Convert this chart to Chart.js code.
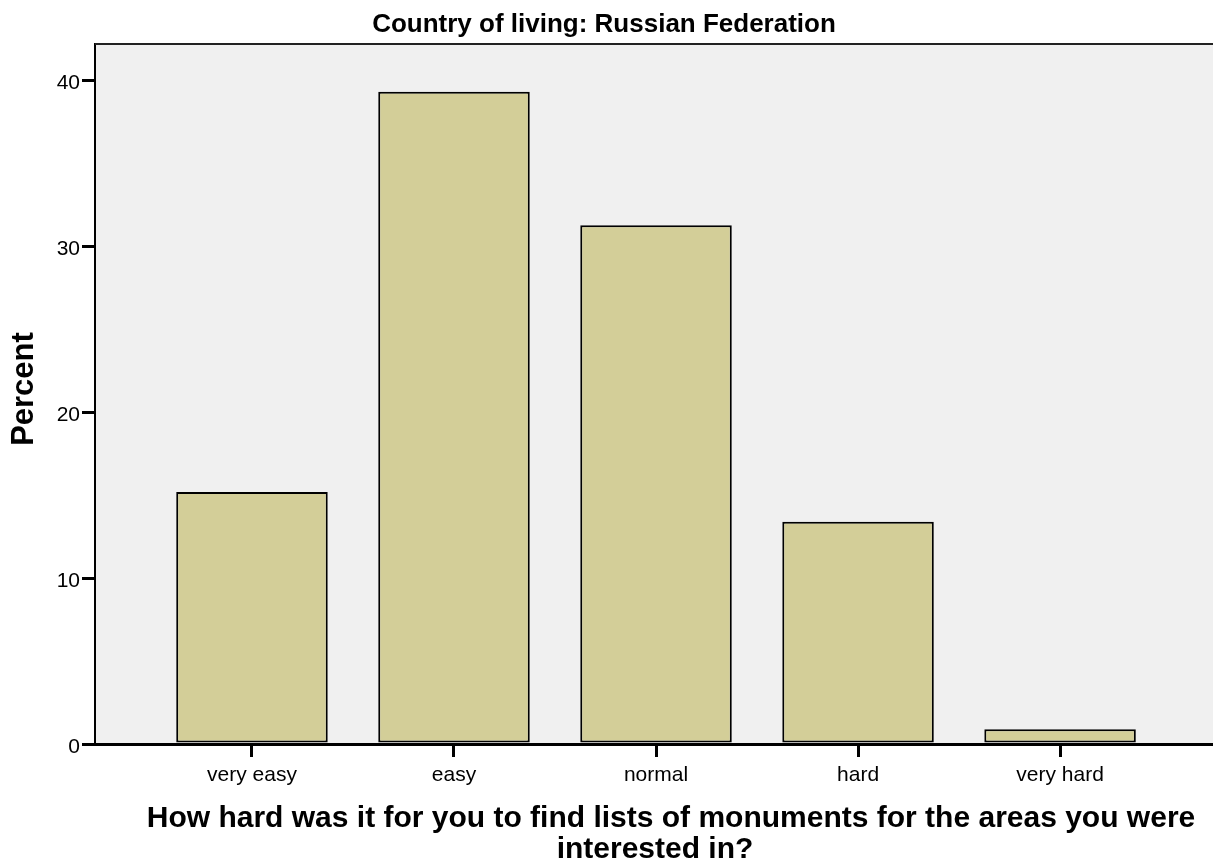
<!DOCTYPE html>
<html>
<head>
<meta charset="utf-8">
<script src="https://cdn.jsdelivr.net/npm/chart.js@4/dist/chart.umd.min.js"></script>
<style>
  html, body { margin: 0; padding: 0; background: #ffffff; }
  #wrap { width: 1213px; height: 866px; position: relative; }
</style>
</head>
<body>
<div id="wrap"><canvas id="c" width="1213" height="866"></canvas></div>
<script>
// ---- data ----
const categories = ['very easy', 'easy', 'normal', 'hard', 'very hard'];
const percents = [15.18, 39.29, 31.25, 13.39, 0.89];
const yTickValues = [0, 10, 20, 30, 40];
const chartTitle = 'Country of living: Russian Federation';
const yTitle = 'Percent';
const xTitleLines = ['How hard was it for you to find lists of monuments for the areas you were', 'interested in?'];

const FONT = '"Liberation Sans", Arial, sans-serif';

const points = categories.map((c, i) => ({ x: i, y: percents[i] }));

const bgPlugin = {
  id: 'bgPlugin',
  beforeDraw(chart) {
    const { ctx, chartArea: a } = chart;
    ctx.save();
    ctx.fillStyle = '#f0f0f0';
    ctx.fillRect(a.left, a.top, a.right - a.left, a.bottom - a.top);
    ctx.restore();
  },
  afterDraw(chart) {
    const { ctx, chartArea: a } = chart;
    ctx.save();
    // top border
    ctx.strokeStyle = '#222';
    ctx.lineWidth = 2;
    ctx.beginPath();
    ctx.moveTo(a.left, a.top);
    ctx.lineTo(a.right, a.top);
    ctx.stroke();
    ctx.fillStyle = '#000';
    // chart title
    ctx.font = 'bold 26px ' + FONT;
    ctx.textAlign = 'center';
    ctx.textBaseline = 'alphabetic';
    ctx.fillText(chartTitle, 604, 32);
    // x title
    ctx.font = 'bold 30px ' + FONT;
    ctx.fillText(xTitleLines[0], 671, 827);
    ctx.fillText(xTitleLines[1], 655, 858);
    // y title
    ctx.save();
    ctx.translate(33, 389);
    ctx.rotate(-Math.PI / 2);
    ctx.font = 'bold 31px ' + FONT;
    ctx.textAlign = 'center';
    ctx.textBaseline = 'alphabetic';
    ctx.fillText(yTitle, 0, 0);
    ctx.restore();
    ctx.restore();
  }
};

new Chart(document.getElementById('c'), {
  type: 'bar',
  data: {
    datasets: [{
      data: points,
      backgroundColor: '#d3ce98',
      borderColor: '#000000',
      borderWidth: 2,
      borderSkipped: false,
      barPercentage: 0.75,
      categoryPercentage: 1.0
    }]
  },
  options: {
    responsive: false,
    animation: false,
    devicePixelRatio: 1,
    layout: { padding: { top: 44, left: 0, right: 0, bottom: 0 } },
    plugins: { legend: { display: false }, title: { display: false }, tooltip: { enabled: false } },
    scales: {
      x: {
        type: 'linear',
        offset: false,
        min: -0.777,
        max: 4.757,
        afterFit(s) { s.height = 122; },
        afterBuildTicks(s) { s.ticks = categories.map((c, i) => ({ value: i })); },
        grid: { offset: false, drawOnChartArea: false, drawTicks: true, tickLength: 13, tickWidth: 3, tickColor: '#000', lineWidth: 3, color: '#000', z: 1 },
        border: { display: true, color: '#000', width: 3, z: 1 },
        ticks: {
          autoSkip: false, maxRotation: 0, minRotation: 0,
          padding: 6,
          color: '#000',
          font: { family: FONT, size: 21 },
          callback: (v) => categories[v] !== undefined ? categories[v] : ''
        }
      },
      y: {
        type: 'linear',
        min: 0,
        max: 42.17,
        afterFit(s) { s.width = 95; },
        afterBuildTicks(s) { s.ticks = yTickValues.map(v => ({ value: v })); },
        grid: { drawOnChartArea: false, drawTicks: true, tickLength: 13, tickWidth: 3, tickColor: '#000', lineWidth: 3, color: '#000', z: 1 },
        border: { display: true, color: '#000', width: 2, z: 1 },
        ticks: {
          padding: 2,
          labelOffset: 3,
          color: '#000',
          font: { family: FONT, size: 21 },
          callback: (v) => String(v)
        }
      }
    }
  },
  plugins: [bgPlugin]
});
</script>
</body>
</html>
